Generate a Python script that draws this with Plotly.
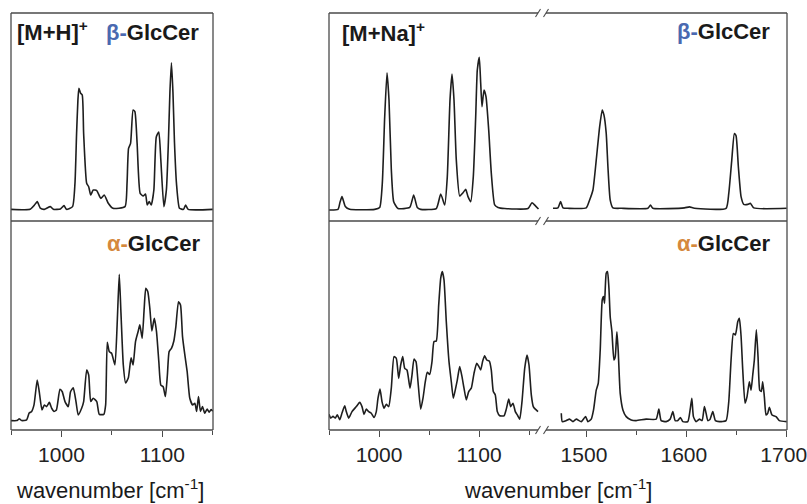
import plotly.graph_objects as go

W, H = 807, 504

# ---------------- data (wavenumber in cm-1, normalised intensity) ----------------
mh_beta_wn = [950, 969, 973, 976, 979, 983, 989, 992, 999, 1002.5, 1005, 1011, 1013.4, 1015, 1016.3, 1017.3, 1019, 1020.6, 1022,
              1025, 1027, 1029, 1031.5, 1035, 1039, 1042.4, 1046.4, 1051, 1063, 1065, 1066.5, 1068.5, 1071, 1072.8,
              1075, 1078, 1081, 1083.3, 1085, 1087, 1089, 1091.6, 1094, 1096.5, 1098.5, 1101.5, 1104, 1106,
              1107.5, 1109, 1110.5, 1112, 1114, 1117, 1121, 1123, 1125.6, 1150]
mh_beta_int = [0.056, 0.056, 0.075, 0.093, 0.062, 0.056, 0.069, 0.056, 0.058, 0.074, 0.056, 0.069, 0.181, 0.42, 0.58, 0.638, 0.614, 0.606, 0.42,
               0.181, 0.165, 0.125, 0.149, 0.146, 0.109, 0.125, 0.085, 0.061, 0.069, 0.181, 0.349, 0.373, 0.534, 0.526,
               0.373, 0.133, 0.12, 0.13, 0.077, 0.093, 0.077, 0.149, 0.404, 0.428, 0.293, 0.069, 0.149, 0.38,
               0.62, 0.761, 0.62, 0.38, 0.181, 0.061, 0.056, 0.077, 0.056, 0.056]

mh_alpha_wn = [950, 955.6, 958.3, 960.6, 965.5, 968, 970.5, 972.8, 976, 978, 980.7, 983, 985.3, 988, 990.3, 992.6, 995,
               998.5, 1000.8, 1003.5, 1006.8, 1009, 1011.7, 1014.4, 1016.6, 1020, 1022, 1025, 1027, 1029, 1031.5, 1035,
               1037.5, 1042, 1043.8, 1045.4, 1047.4, 1049.7, 1053, 1055.3, 1057.3, 1059, 1061.3, 1063.6, 1066.3, 1069,
               1071, 1073.4, 1076, 1077.7, 1080, 1082, 1083.6, 1085.6, 1087.6, 1089.6, 1092, 1094.2, 1096.5, 1098.5,
               1100.8, 1103, 1105, 1106.7, 1109, 1111.4, 1113.4, 1116, 1118, 1120, 1122.3, 1124.6, 1127.2, 1130,
               1132.2, 1134, 1135.8, 1137.8, 1139.8, 1142, 1144.4, 1146.4, 1148.3, 1150]
mh_alpha_int = [0.045, 0.045, 0.053, 0.045, 0.048, 0.081, 0.089, 0.12, 0.239, 0.183, 0.096, 0.12, 0.112, 0.132, 0.104, 0.089, 0.096,
                0.195, 0.183, 0.136, 0.112, 0.183, 0.202, 0.136, 0.072, 0.104, 0.136, 0.287, 0.263, 0.136, 0.152, 0.136,
                0.075, 0.075, 0.12, 0.42, 0.375, 0.367, 0.311, 0.518, 0.745, 0.558, 0.311, 0.225, 0.25, 0.345,
                0.311, 0.423, 0.471, 0.503, 0.439, 0.582, 0.678, 0.662, 0.582, 0.474, 0.534, 0.471, 0.327, 0.215,
                0.207, 0.16, 0.263, 0.375, 0.391, 0.426, 0.495, 0.614, 0.598, 0.447, 0.359, 0.279, 0.152, 0.12,
                0.128, 0.089, 0.16, 0.089, 0.112, 0.08, 0.1, 0.085, 0.098, 0.09]

na_beta_low_wn = [950, 959, 961, 963, 966.3, 970.7, 995.7, 1000.7, 1003.3, 1005.7, 1008, 1010, 1012.3, 1014.7, 1019, 1030.7,
                  1034.7, 1038.3, 1041.7, 1057.3, 1061.7, 1065.7, 1068.3, 1071, 1073, 1075, 1077.3, 1080.7, 1084,
                  1086.7, 1089, 1091.7, 1094.3, 1096.7, 1098.3, 1100.3, 1101.7, 1103, 1105, 1107, 1109.7, 1112.3,
                  1115.7, 1119, 1125.7, 1149, 1153, 1156, 1159.5]
na_beta_low_int = [0.053, 0.056, 0.09, 0.117, 0.07, 0.056, 0.056, 0.065, 0.181, 0.501, 0.713, 0.582, 0.25, 0.093, 0.06, 0.065,
                   0.125, 0.065, 0.056, 0.06, 0.13, 0.077, 0.213, 0.582, 0.707, 0.582, 0.293, 0.12, 0.136,
                   0.152, 0.117, 0.093, 0.213, 0.501, 0.726, 0.787, 0.662, 0.55, 0.63, 0.598, 0.438, 0.23,
                   0.077, 0.065, 0.06, 0.06, 0.088, 0.075, 0.058]

na_beta_high_wn = [1466, 1471, 1473.6, 1476, 1481, 1499.3, 1502.6, 1506, 1509.3, 1512.7, 1515.3, 1517, 1519.3, 1521, 1523.3,
                   1526, 1534.3, 1561, 1563.6, 1566, 1597.6, 1602.6, 1607.6, 1639.3, 1642, 1645, 1647.6, 1649.3,
                   1651.6, 1654.3, 1657, 1661, 1663.6, 1667, 1700]
na_beta_high_int = [0.061, 0.063, 0.093, 0.063, 0.061, 0.063, 0.1, 0.149, 0.293, 0.453, 0.534, 0.51, 0.421, 0.261, 0.1,
                    0.063, 0.061, 0.061, 0.077, 0.061, 0.063, 0.068, 0.061, 0.061, 0.133, 0.293, 0.421, 0.41,
                    0.261, 0.117, 0.08, 0.08, 0.085, 0.063, 0.061]

na_alpha_low_wn = [950, 951.7, 954, 956.3, 958.3, 960.7, 963, 965.7, 967.3, 969.7, 973, 977.3, 980.7, 983, 985, 987.3, 989.7,
                   992.3, 995, 997.3, 999, 1001, 1003, 1005, 1007.3, 1009.7, 1012.3, 1015, 1017.3, 1019.7, 1021.7,
                   1023.7, 1025.7, 1028, 1031, 1033, 1035, 1037, 1039, 1041.7, 1044, 1046.3, 1048.3, 1050.7, 1053,
                   1055, 1057.3, 1059.7, 1061.7, 1063.3, 1065, 1067.3, 1070, 1072.3, 1074.3, 1076.3, 1078.3, 1080.7,
                   1083, 1085, 1087.3, 1089.7, 1092.3, 1095, 1097.7, 1099.7, 1101.7, 1103.7, 1105.7, 1107.7, 1110.3,
                   1112.3, 1114.3, 1116.3, 1118.3, 1120.7, 1125, 1127.3, 1129.7, 1131.7, 1134, 1136.3, 1138.3,
                   1140.7, 1143, 1145.7, 1148, 1150, 1152.3, 1154.3, 1156.3, 1159]
na_alpha_low_int = [0.075, 0.057, 0.065, 0.057, 0.073, 0.049, 0.081, 0.116, 0.088, 0.057, 0.088, 0.112, 0.132, 0.112, 0.075,
                    0.1, 0.088, 0.08, 0.06, 0.088, 0.152, 0.196, 0.136, 0.104, 0.123, 0.112, 0.2, 0.351, 0.343, 0.247,
                    0.311, 0.351, 0.295, 0.287, 0.2, 0.263, 0.339, 0.327, 0.231, 0.1, 0.152, 0.231, 0.276, 0.266,
                    0.327, 0.423, 0.426, 0.598, 0.726, 0.758, 0.718, 0.518, 0.327, 0.231, 0.152, 0.192, 0.239, 0.303,
                    0.255, 0.2, 0.144, 0.184, 0.2, 0.271, 0.319, 0.306, 0.287, 0.33, 0.355, 0.335, 0.33,
                    0.287, 0.184, 0.168, 0.088, 0.068, 0.068, 0.1, 0.148, 0.112, 0.128, 0.088, 0.072, 0.052,
                    0.136, 0.295, 0.359, 0.311, 0.168, 0.112, 0.1, 0.088]

na_alpha_high_wn = [1474.3, 1475.3, 1479.3, 1482.6, 1486, 1489.3, 1494.3, 1498.6, 1501, 1504.3, 1506.6, 1509.3, 1511.3, 1513.3,
                    1515.3, 1516.6, 1517.6, 1519.3, 1520.6, 1522, 1523.3, 1525, 1527, 1528.3, 1530, 1531.3, 1533.3,
                    1536, 1539.3, 1544.3, 1549.3, 1559.3, 1569.3, 1572, 1574.3, 1579.3, 1583.3, 1586, 1588.3, 1591,
                    1593.6, 1596, 1601, 1603.3, 1605, 1606.6, 1609.3, 1612.6, 1615.3, 1617.6, 1619.3, 1621, 1623.3,
                    1626, 1628.6, 1632.6, 1639.3, 1642, 1644.3, 1646.6, 1648.6, 1651, 1652.6, 1654.3, 1656, 1658.3,
                    1660.3, 1662.6, 1664.3, 1666, 1667.6, 1669.6, 1671.3, 1673, 1674.6, 1676, 1677.6, 1679.3, 1681,
                    1682.6, 1685.3, 1689.3, 1692.6, 1700]
na_alpha_high_int = [0.08, 0.04, 0.045, 0.052, 0.04, 0.052, 0.04, 0.064, 0.04, 0.052, 0.096, 0.191, 0.223, 0.383,
                     0.622, 0.638, 0.606, 0.75, 0.758, 0.68, 0.542, 0.47, 0.335, 0.35, 0.47, 0.38, 0.175,
                     0.096, 0.064, 0.048, 0.045, 0.052, 0.052, 0.1, 0.045, 0.04, 0.052, 0.088, 0.045, 0.045,
                     0.06, 0.04, 0.04, 0.096, 0.152, 0.064, 0.04, 0.052, 0.045, 0.112, 0.08, 0.045, 0.052,
                     0.088, 0.045, 0.04, 0.045, 0.136, 0.335, 0.462, 0.455, 0.518, 0.534, 0.45, 0.287, 0.128,
                     0.16, 0.231, 0.19, 0.263, 0.335, 0.479, 0.35, 0.191, 0.184, 0.231, 0.16, 0.072, 0.08,
                     0.109, 0.072, 0.064, 0.045, 0.04]

left_ticks = [1000, 1100]
low_ticks = [1000, 1100]
high_ticks = [1500, 1600, 1700]
x_title = "wavenumber [cm<sup>-1</sup>]"
beta_color = "#4a69b0"
alpha_color = "#d5883c"

# ---------------- layout helpers ----------------
def px(x):
    return x / W

def py(y):
    return 1 - y / H

FONT = "Liberation Sans, Arial, sans-serif"
LINE = "#1e1e1e"
FRAME = "#4a4a4a"

# panel geometry (pixels)
L_X0, L_X1 = 11, 213
R_X0, R_SPLIT0, R_SPLIT1, R_X1 = 329, 540, 545, 787
Y_TOP, Y_MID, Y_BOT = 13, 221, 430

fig = go.Figure()

series = [
    (mh_beta_wn, mh_beta_int, "x4", "y4"),
    (mh_alpha_wn, mh_alpha_int, "x", "y"),
    (na_beta_low_wn, na_beta_low_int, "x5", "y5"),
    (na_beta_high_wn, na_beta_high_int, "x6", "y6"),
    (na_alpha_low_wn, na_alpha_low_int, "x2", "y2"),
    (na_alpha_high_wn, na_alpha_high_int, "x3", "y3"),
]
for xs, ys, xa, ya in series:
    fig.add_trace(go.Scatter(x=xs, y=ys, xaxis=xa, yaxis=ya, mode="lines",
                             line=dict(color=LINE, width=1.6, shape="spline", smoothing=0.5),
                             showlegend=False, hoverinfo="skip", cliponaxis=False))

def xaxis(dom, rng, anchor, ticks, show, shift=0):
    d = dict(domain=[px(dom[0]), px(dom[1])], range=rng, anchor=anchor, showgrid=False, zeroline=False,
             showline=False, fixedrange=True, automargin=False)
    if show:
        d.update(tickmode="array", tickvals=ticks, ticks="outside", ticklen=6, tickwidth=1.2, tickcolor=FRAME,
                 tickfont=dict(family=FONT, size=21, color="#222"), ticklabeloverflow="allow",
                 ticklabelshift=shift,
                 minor=dict(ticks="outside", dtick=50, ticklen=4, tickwidth=1.2, tickcolor=FRAME))
    else:
        d.update(showticklabels=False, ticks="")
    return d

def yaxis(dom, anchor):
    return dict(domain=[py(dom[1]), py(dom[0])], range=[0, 1], anchor=anchor, visible=False, fixedrange=True,
                automargin=False)

fig.update_layout(
    xaxis=xaxis((L_X0, L_X1), [950, 1150.2], "y", left_ticks, True),
    xaxis2=xaxis((R_X0, R_SPLIT0), [950, 1161], "y2", low_ticks, True),
    xaxis3=xaxis((R_SPLIT1, R_X1), [1458, 1700.3], "y3", high_ticks, True, -3),
    xaxis4=xaxis((L_X0, L_X1), [950, 1150.2], "y4", None, False),
    xaxis5=xaxis((R_X0, R_SPLIT0), [950, 1161], "y5", None, False),
    xaxis6=xaxis((R_SPLIT1, R_X1), [1458, 1700.3], "y6", None, False),
    yaxis=yaxis((Y_MID, Y_BOT), "x"),
    yaxis2=yaxis((Y_MID, Y_BOT), "x2"),
    yaxis3=yaxis((Y_MID, Y_BOT), "x3"),
    yaxis4=yaxis((Y_TOP, Y_MID), "x4"),
    yaxis5=yaxis((Y_TOP, Y_MID), "x5"),
    yaxis6=yaxis((Y_TOP, Y_MID), "x6"),
)

shapes = []
def seg(x0, y0, x1, y1, w=1.3):
    shapes.append(dict(type="line", xref="paper", yref="paper", x0=px(x0), y0=py(y0), x1=px(x1), y1=py(y1),
                       line=dict(color=FRAME, width=w)))

# left frame
seg(L_X0, Y_TOP, L_X1, Y_TOP)
seg(L_X0, Y_MID, L_X1, Y_MID)
seg(L_X0, Y_BOT, L_X1, Y_BOT)
seg(L_X0, Y_TOP, L_X0, Y_BOT)
seg(L_X1, Y_TOP, L_X1, Y_BOT)
# right frame with axis break
for yy in (Y_TOP, Y_MID, Y_BOT):
    seg(R_X0, yy, 538, yy)
    seg(546, yy, R_X1, yy)
    seg(535.5, yy + 4, 540.5, yy - 4, 1.1)
    seg(543.5, yy + 4, 548.5, yy - 4, 1.1)
seg(R_X0, Y_TOP, R_X0, Y_BOT)
seg(R_X1, Y_TOP, R_X1, Y_BOT)
fig.update_layout(shapes=shapes)

ann = []
def label(text, x, y, xanchor, size=22, color="#1a1a1a"):
    ann.append(dict(text=text, x=px(x), y=py(y), xref="paper", yref="paper", xanchor=xanchor, yanchor="middle",
                    showarrow=False, font=dict(family=FONT, size=size, color=color)))

label("<b>[M+H]<sup>+</sup></b>", 15, 31, "left")
label(f"<b><span style='color:{beta_color}'>β-</span>GlcCer</b>", 201, 32, "right")
label(f"<b><span style='color:{alpha_color}'>α-</span>GlcCer</b>", 202, 243, "right")
label("<b>[M+Na]<sup>+</sup></b>", 340, 32, "left")
label(f"<b><span style='color:{beta_color}'>β-</span>GlcCer</b>", 772, 31, "right")
label(f"<b><span style='color:{alpha_color}'>α-</span>GlcCer</b>", 772, 243, "right")
label(x_title, 110, 489, "center", size=22)
label(x_title, 558, 489, "center", size=22)
fig.update_layout(annotations=ann)

fig.update_layout(width=W, height=H, margin=dict(l=0, r=0, t=0, b=0, autoexpand=False),
                  paper_bgcolor="white", plot_bgcolor="white", showlegend=False)

fig.write_html("out.html")
